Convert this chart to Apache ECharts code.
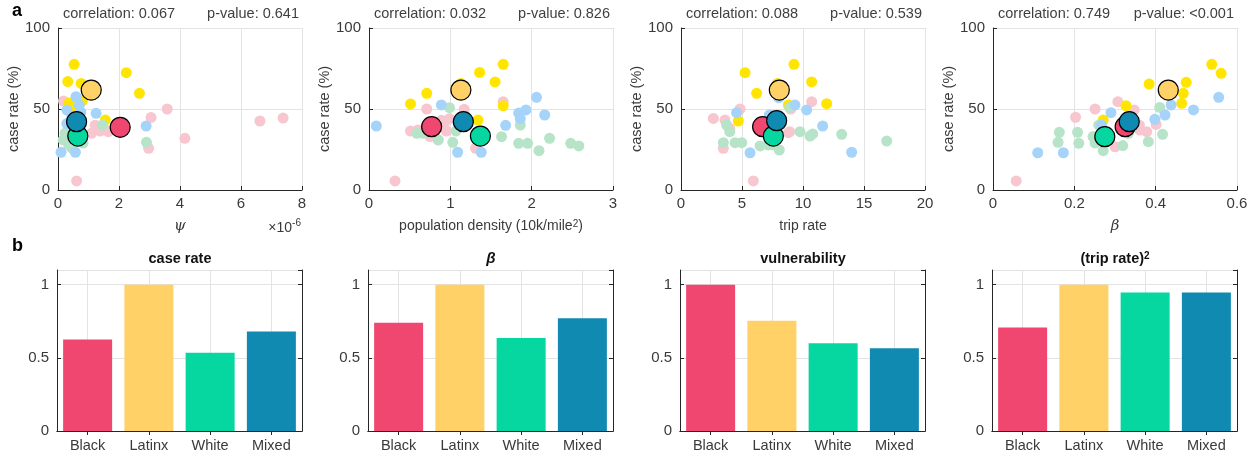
<!DOCTYPE html>
<html><head><meta charset="utf-8">
<script src="https://cdn.jsdelivr.net/npm/echarts@6/dist/echarts.min.js"></script>
<style>html,body{margin:0;padding:0;background:#fff}#c{width:1256px;height:458px}</style>
</head><body><div id="c"></div>
<script>
// ---------------- DATA ----------------
const groups = ['Black', 'Latinx', 'White', 'Mixed'];
const corrLabels = ['correlation: 0.067', 'correlation: 0.032', 'correlation: 0.088', 'correlation: 0.749'];
const pLabels = ['p-value: 0.641', 'p-value: 0.826', 'p-value: 0.539', 'p-value: <0.001'];
const xMaxes = [8, 3, 20, 0.6];
const xSteps = [2, 1, 5, 0.2];
const yMax = 100, yStep = 50;

// panel 1: psi (x1e-6) vs case rate (%)
const psiBlack  = [[0.18,54.9],[3.58,50],[3.05,44.8],[4.16,31.9],[2.97,25.7],[0.61,5.6],[6.62,42.6],[7.38,44.4],[1.22,40],[1.38,36.4],[1.65,36],[0.75,40],[1.5,38],[0.45,46],[1.1,35]];
const psiLatinx = [[0.53,77.6],[0.32,66.9],[0.76,65.8],[2.24,72.4],[2.67,59.7],[0.36,53.7],[1.55,43.2],[0.55,52],[0.8,55]];
const psiWhite  = [[1.46,40.1],[2.9,29.4],[0.23,35],[0.17,30.9],[0.82,29],[0.35,28],[0.5,33],[0.3,36],[0.6,30],[0.45,26]];
const psiMixed  = [[0.59,57.6],[0.70,52.5],[0.29,49.4],[1.25,47.3],[2.89,39.5],[0.1,23.3],[0.57,23.3],[0.29,41],[0.45,44],[0.75,48]];
const psiMeans  = [[2.04,38.7],[1.09,61.7],[0.65,33.3],[0.61,42.2]];

// panel 2: population density (10k/mile^2)
const densBlack  = [[0.32,5.6],[0.71,50],[1.17,49.8],[0.51,36.4],[0.89,43],[0.95,36.4],[0.99,44],[0.85,31],[1.31,25.7],[1.65,54.5],[0.6,37],[0.75,33],[0.92,40]];
const densLatinx = [[0.51,53.1],[0.71,59.7],[1.13,65.8],[1.36,72.6],[1.34,43.2],[1.65,77.6],[1.55,66.7],[1.65,52]];
const densWhite  = [[0.99,50.8],[0.59,35],[0.67,35],[0.85,30.9],[1.03,29.4],[1.07,36.4],[1.86,40.1],[1.63,32.9],[1.84,28.8],[1.95,28.8],[2.22,31.9],[2.09,24.3],[2.48,28.8],[2.58,27.2]];
const densMixed  = [[0.09,39.5],[0.89,52.5],[1.09,23.3],[1.38,23.3],[2.06,57.2],[1.84,47.5],[1.93,49.4],[1.86,44],[2.16,46.3],[1.68,39.9]];
const densMeans  = [[0.77,39.1],[1.13,61.7],[1.37,33.3],[1.16,42.2]];

// panel 3: trip rate
const tripBlack  = [[2.65,44.2],[5.93,5.6],[4.84,50],[3.6,43.2],[3.47,25.7],[8.8,35.4],[10.71,54.5],[9.0,50],[4.0,38],[8.9,36]];
const tripLatinx = [[5.25,72.4],[6.2,59.7],[4.7,42.6],[9.26,77.6],[7.9,65.8],[8.8,52.5],[10.71,66.7],[11.94,53.3]];
const tripWhite  = [[3.74,40.1],[4.0,36],[3.47,29.2],[4.43,29.2],[4.98,29.2],[6.48,27.2],[7.13,27.8],[8.06,24.7],[8.9,51],[9.75,36],[10.57,33.3],[10.8,34.6],[13.17,34.4],[16.86,30.2],[7.5,28]];
const tripMixed  = [[4.56,47.7],[5.66,23],[7.24,46.3],[9.34,52.5],[10.3,49.4],[11.61,39.5],[13.99,23.3],[8.0,57]];
const tripMeans  = [[6.69,39.1],[8.06,61.7],[7.57,33.3],[7.84,42.8]];

// panel 4: beta
const betaBlack  = [[0.057,5.6],[0.203,44.9],[0.251,50],[0.307,54.5],[0.347,49.4],[0.3,26.7],[0.361,37],[0.378,36],[0.401,40.5],[0.36,40]];
const betaLatinx = [[0.271,43.2],[0.327,52],[0.384,65.4],[0.464,53.5],[0.468,59.7],[0.475,66.5],[0.538,77.6],[0.561,72]];
const betaWhite  = [[0.163,35.6],[0.16,29.4],[0.208,35.6],[0.211,28.8],[0.246,33],[0.251,29],[0.271,24.3],[0.319,27.4],[0.333,35],[0.382,29.8],[0.41,51],[0.417,34.4],[0.26,40]];
const betaMixed  = [[0.11,23],[0.173,23],[0.29,47.7],[0.267,40.1],[0.398,43.6],[0.423,46.3],[0.438,52.5],[0.493,49.4],[0.555,57.2]];
const betaMeans  = [[0.325,39.1],[0.431,61.7],[0.275,32.9],[0.335,42.2]];

// bar panels (normalised)
const barCaseRate      = [0.625, 1, 0.535, 0.68];
const barBeta          = [0.74, 1, 0.635, 0.77];
const barVulnerability = [1, 0.753, 0.599, 0.565];
const barTripRateSq    = [0.707, 1, 0.946, 0.946];
const barMax = 1.1, barStep = 0.5;

// ---------------- STYLE / LAYOUT ----------------
const FONT = 'Liberation Sans, Arial, Helvetica, sans-serif';
const lightColors = ['#F7C6CF', '#FFE500', '#B7E4C8', '#A6D3FA'];
const darkColors  = ['#EF476F', '#FFD166', '#06D6A0', '#118AB2'];
const lefts = [58, 369, 681, 993];
const W = 244;
const AX = '#262626', GRIDC = '#e3e3e3', LBL = '#3a3a3a';
const FS = 15;

const scatterSets = [
  [psiBlack, psiLatinx, psiWhite, psiMixed, psiMeans],
  [densBlack, densLatinx, densWhite, densMixed, densMeans],
  [tripBlack, tripLatinx, tripWhite, tripMixed, tripMeans],
  [betaBlack, betaLatinx, betaWhite, betaMixed, betaMeans]
];
const barSets = [barCaseRate, barBeta, barVulnerability, barTripRateSq];
const xNames = ['{i|ψ}', 'population density (10k/mile{s|2})', 'trip rate', '{i|β}'];
const barTitles = ['case rate', '{bi|β}', 'vulnerability', '(trip rate){s|2}'];

const grid = [], xAxis = [], yAxis = [], series = [], graphic = [];

function valAxisBase() {
  return {
    axisLine: { show: true, lineStyle: { color: AX, width: 1 } },
    axisTick: { show: true, inside: true, length: 4, lineStyle: { color: AX } },
    axisLabel: { color: LBL, fontSize: FS, fontFamily: FONT },
    splitLine: { show: true, lineStyle: { color: GRIDC, width: 1 } }
  };
}

for (let i = 0; i < 4; i++) {
  grid.push({ left: lefts[i], top: 28, width: W, height: 162, containLabel: false });
  const gS = grid.length - 1;
  grid.push({ left: lefts[i] - 1, top: 270, width: W + 1, height: 161, containLabel: false });
  const gB = grid.length - 1;

  // scatter axes
  xAxis.push(Object.assign(valAxisBase(), {
    gridIndex: gS, type: 'value', min: 0, max: xMaxes[i], interval: xSteps[i],
    name: xNames[i], nameLocation: 'middle', nameGap: 29,
    nameTextStyle: { color: LBL, fontSize: 14, fontFamily: FONT,
      rich: { i: { fontStyle: 'italic', fontSize: 15, fontFamily: 'DejaVu Serif, serif', color: LBL },
              s: { fontSize: 10, lineHeight: 9, verticalAlign: 'top', color: LBL } } },
    axisLabel: { color: LBL, fontSize: FS, fontFamily: FONT, margin: 6 }
  }));
  const xS = xAxis.length - 1;
  yAxis.push(Object.assign(valAxisBase(), {
    gridIndex: gS, type: 'value', min: 0, max: yMax, interval: yStep,
    name: 'case rate (%)', nameLocation: 'middle', nameGap: 33,
    nameTextStyle: { color: LBL, fontSize: 14.5, fontFamily: FONT },
    axisLabel: { color: LBL, fontSize: FS, fontFamily: FONT, margin: 8 }
  }));
  const yS = yAxis.length - 1;

  // bar axes
  xAxis.push({
    gridIndex: gB, type: 'category', data: groups, position: 'bottom',
    axisLine: { show: true, lineStyle: { color: AX } },
    axisTick: { show: true, inside: true, alignWithLabel: true, length: 4, lineStyle: { color: AX } },
    axisLabel: { color: LBL, fontSize: 14.5, fontFamily: FONT, margin: 7 },
    splitLine: { show: true, alignWithLabel: true, lineStyle: { color: GRIDC } }
  });
  const xB = xAxis.length - 1;
  xAxis.push({
    gridIndex: gB, type: 'category', data: groups, position: 'top',
    axisLine: { show: true, lineStyle: { color: AX } },
    axisTick: { show: true, inside: true, alignWithLabel: true, length: 4, lineStyle: { color: AX } },
    axisLabel: { show: false }, splitLine: { show: false }
  });
  yAxis.push(Object.assign(valAxisBase(), {
    gridIndex: gB, type: 'value', min: 0, max: barMax, interval: barStep,
    axisLabel: { color: LBL, fontSize: FS, fontFamily: FONT, margin: 8, showMaxLabel: false }
  }));
  const yB = yAxis.length - 1;
  yAxis.push({
    gridIndex: gB, type: 'value', min: 0, max: barMax, interval: barStep, position: 'right',
    axisLine: { show: true, lineStyle: { color: AX } },
    axisTick: { show: true, inside: true, length: 4, lineStyle: { color: AX } },
    axisLabel: { show: false }, splitLine: { show: false }
  });

  // scatter series
  const sets = scatterSets[i];
  for (let g = 0; g < 4; g++) {
    series.push({
      type: 'scatter', xAxisIndex: xS, yAxisIndex: yS, data: sets[g],
      symbolSize: 11, z: 2 + g * 0.01,
      itemStyle: { color: lightColors[g], opacity: 1 }, silent: true
    });
  }
  for (let g = 0; g < 4; g++) {
    series.push({
      type: 'scatter', xAxisIndex: xS, yAxisIndex: yS, data: [sets[4][g]],
      symbolSize: 20, z: 5,
      itemStyle: { color: darkColors[g], borderColor: '#000', borderWidth: 1.2, opacity: 1 }, silent: true
    });
  }

  // bar series
  series.push({
    type: 'bar', xAxisIndex: xB, yAxisIndex: yB, barCategoryGap: '20%',
    data: barSets[i].map((v, k) => ({ value: v, itemStyle: { color: darkColors[k] } })),
    silent: true, z: 3
  });

  // texts
  graphic.push({ type: 'text', style: { text: corrLabels[i], x: lefts[i] + 5, y: 14, fill: '#404040',
    fontSize: 14.5, fontFamily: FONT, verticalAlign: 'middle', align: 'left' } });
  graphic.push({ type: 'text', style: { text: pLabels[i], x: lefts[i] + W - 3, y: 14, fill: '#404040',
    fontSize: 14.5, fontFamily: FONT, verticalAlign: 'middle', align: 'right' } });
  graphic.push({ type: 'text', style: { text: barTitles[i], x: lefts[i] + W / 2, y: 259, fill: '#111',
    fontSize: 14.5, fontWeight: 'bold', fontFamily: FONT, verticalAlign: 'middle', align: 'center',
    rich: { bi: { fontStyle: 'italic', fontWeight: 'bold', fontSize: 15, fontFamily: FONT, fill: '#111', lineHeight: 18 },
            s: { fontSize: 10, fontWeight: 'bold', lineHeight: 7, verticalAlign: 'top', fontFamily: FONT, fill: '#111' } } } });
}

graphic.push({ type: 'text', style: { text: 'a', x: 12, y: 11, fill: '#000', fontSize: 18, fontWeight: 'bold', fontFamily: FONT, verticalAlign: 'middle' } });
graphic.push({ type: 'text', style: { text: 'b', x: 12, y: 246, fill: '#000', fontSize: 18, fontWeight: 'bold', fontFamily: FONT, verticalAlign: 'middle' } });
graphic.push({ type: 'text', style: { text: '{a|×10}{b|-6}', x: 301, y: 228, align: 'right', verticalAlign: 'middle',
  rich: { a: { fontSize: 14, lineHeight: 19, fontFamily: FONT, fill: LBL },
          b: { fontSize: 10, lineHeight: 9, verticalAlign: 'top', fontFamily: FONT, fill: LBL } } } });

const chart = echarts.init(document.getElementById('c'), null, { renderer: 'canvas' });
chart.setOption({
  animation: false, backgroundColor: '#fff',
  grid, xAxis, yAxis, series, graphic
});
</script></body></html>
